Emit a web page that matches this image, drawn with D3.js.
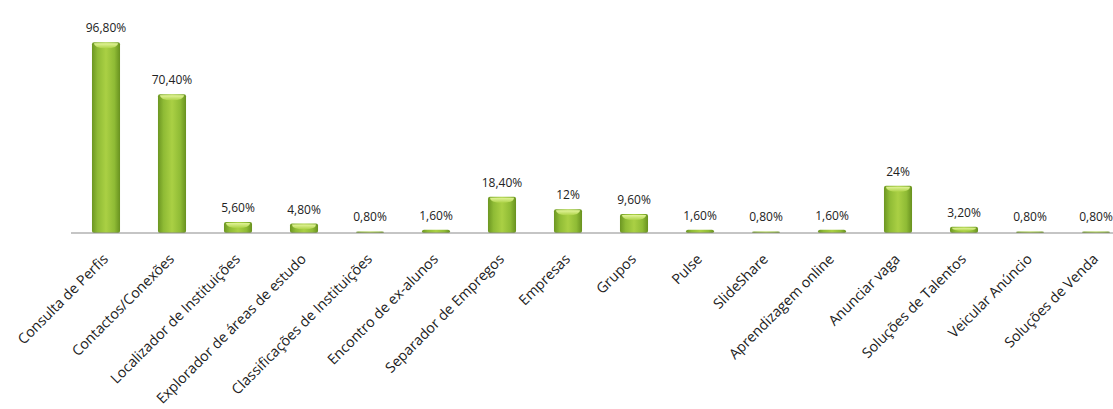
<!DOCTYPE html>
<html>
<head>
<meta charset="utf-8">
<script src="https://cdn.jsdelivr.net/npm/d3@7"></script>
<style>
  body { margin: 0; background: #fff; }
  svg { display: block; font-family: "Open Sans", sans-serif; }
  .value { font-size: 12px; fill: #222; text-anchor: middle; }
  .cat { font-size: 14.3px; fill: #222; text-anchor: end; }
</style>
</head>
<body>
<svg id="chart" width="1113" height="409"></svg>
<script>
const categories = [
    "Consulta de Perfis", "Contactos/Conexões", "Localizador de Instituições",
    "Explorador de áreas de estudo", "Classificações de Instituições",
    "Encontro de ex-alunos", "Separador de Empregos", "Empresas", "Grupos",
    "Pulse", "SlideShare", "Aprendizagem online", "Anunciar vaga",
    "Soluções de Talentos", "Veicular Anúncio", "Soluções de Venda"
];
const values = [96.8, 70.4, 5.6, 4.8, 0.8, 1.6, 18.4, 12, 9.6, 1.6, 0.8, 1.6, 24, 3.2, 0.8, 0.8];

const baseline = 233;
const bandW = 66;

const rows = categories.map((c, i) => ({ name: c, value: values[i] }));

const svg = d3.select("#chart");

const x = d3.scaleBand()
    .domain(categories)
    .range([73, 73 + bandW * categories.length])
    .paddingInner(0.575)
    .paddingOuter(0.2875);

const y = d3.scaleLinear()
    .domain([0, 100])
    .range([baseline, 36]);

function pct(v) {
    return (Number.isInteger(v) ? v : v.toFixed(2).replace(".", ",")) + "%";
}

// bar shading
const defs = svg.append("defs");
const grad = defs.append("linearGradient").attr("id", "barGrad")
    .attr("x1", "0%").attr("x2", "100%").attr("y1", "0%").attr("y2", "0%");
grad.append("stop").attr("offset", "0%").attr("stop-color", "#6c9622");
grad.append("stop").attr("offset", "20%").attr("stop-color", "#8fbb35");
grad.append("stop").attr("offset", "50%").attr("stop-color", "#aad044");
grad.append("stop").attr("offset", "80%").attr("stop-color", "#8fbb35");
grad.append("stop").attr("offset", "100%").attr("stop-color", "#68911f");

const capGrad = defs.append("linearGradient").attr("id", "capGrad")
    .attr("x1", "0%").attr("x2", "0%").attr("y1", "0%").attr("y2", "100%");
capGrad.append("stop").attr("offset", "0%").attr("stop-color", "#e2f39a");
capGrad.append("stop").attr("offset", "100%").attr("stop-color", "#add347");

const bars = svg.append("g").selectAll("g")
    .data(rows)
    .join("g");

bars.append("rect")
    .attr("x", d => x(d.name))
    .attr("y", d => y(d.value))
    .attr("width", x.bandwidth())
    .attr("height", d => baseline - y(d.value))
    .attr("rx", 2)
    .attr("fill", "url(#barGrad)");

// lighter rounded top on each bar
bars.filter(d => baseline - y(d.value) > 4)
    .append("path")
    .attr("d", d => {
        const x0 = x(d.name) + 2, x1 = x0 + x.bandwidth() - 4, top = y(d.value) + 1;
        const h = Math.min(5, (baseline - y(d.value)) / 2);
        return "M" + x0 + "," + top + " L" + x1 + "," + top +
            " Q" + x1 + "," + (top + h) + " " + ((x0 + x1) / 2) + "," + (top + h) +
            " Q" + x0 + "," + (top + h) + " " + x0 + "," + top + " Z";
    })
    .attr("fill", "url(#capGrad)");

// axis line
svg.append("line")
    .attr("x1", 71).attr("x2", 1113)
    .attr("y1", baseline).attr("y2", baseline)
    .attr("stroke", "#8c8c8c").attr("stroke-width", 1.2);

// value labels
svg.append("g").selectAll("text")
    .data(rows)
    .join("text")
    .attr("class", "value")
    .attr("x", d => x(d.name) + x.bandwidth() / 2)
    .attr("y", d => y(d.value) - 10)
    .text(d => pct(d.value));

// category labels
svg.append("g").selectAll("text")
    .data(categories)
    .join("text")
    .attr("class", "cat")
    .attr("transform", d => "translate(" + (x(d) + x.bandwidth() / 2 + 3) + "," + (baseline + 27) + ") rotate(-45)")
    .text(d => d);
</script>
</body>
</html>
